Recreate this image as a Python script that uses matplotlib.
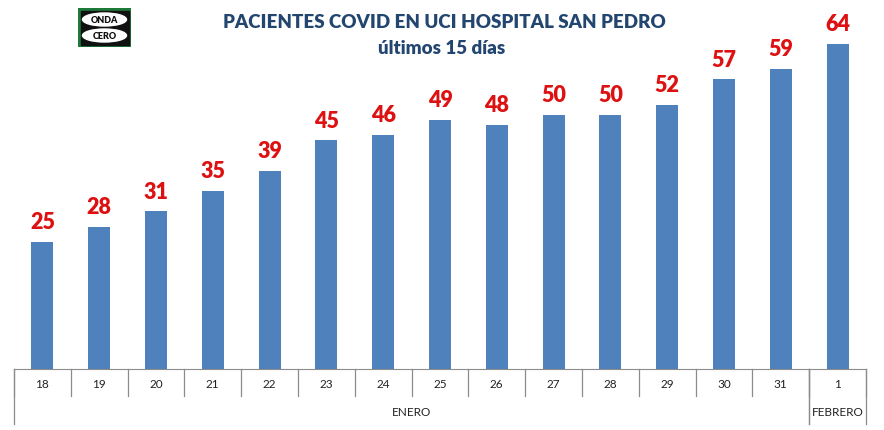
import matplotlib.pyplot as plt
from matplotlib.patches import Rectangle, Ellipse
from matplotlib.transforms import blended_transform_factory

# datos
dias = ["18", "19", "20", "21", "22", "23", "24", "25", "26", "27", "28", "29", "30", "31", "1"]
pacientes = [25, 28, 31, 35, 39, 45, 46, 49, 48, 50, 50, 52, 57, 59, 64]
meses = ["ENERO", "FEBRERO"]
dias_por_mes = [14, 1]

W, H = 884, 431
fig = plt.figure(figsize=(W / 100, H / 100), dpi=100)
plt.rcParams['font.family'] = ['Lato', 'DejaVu Sans']


def px(x0, y0, x1, y1):
    # caja en pixeles (arriba-izquierda) -> fraccion de figura
    return [x0 / W, 1 - y1 / H, (x1 - x0) / W, (y1 - y0) / H]


ax = fig.add_axes(px(14, 4, 866, 370))
x = list(range(len(dias)))
bars = ax.bar(x, pacientes, width=0.39, color="#4F81BD")
ax.set_xlim(-0.5, len(dias) - 0.5)
ax.set_ylim(0, 72)

for b, v in zip(bars, pacientes):
    ax.annotate(str(v), (b.get_x() + b.get_width() / 2, v), xytext=(0, 7),
                textcoords="offset points", ha="center", va="bottom",
                color="#DD1111", fontsize=15.5, fontweight="heavy")

for s in ["top", "right", "left"]:
    ax.spines[s].set_visible(False)
ax.spines["bottom"].set_color("#8c8c8c")
ax.set_yticks([])
ax.set_xticks([])

# eje de categorias con separadores
axh = 366
tr = blended_transform_factory(ax.transData, ax.transAxes)
for i in range(len(dias) + 1):
    ax.plot([i - 0.5, i - 0.5], [0, -27 / axh], color="#8c8c8c", lw=0.9,
            transform=tr, clip_on=False)
for i, d in enumerate(dias):
    ax.text(i, -15 / axh, d, transform=tr, ha="center", va="center",
            fontsize=8.5, color="#222222")

start = 0
for m, n in zip(meses, dias_por_mes):
    for edge in (start - 0.5, start + n - 0.5):
        ax.plot([edge, edge], [0, -55 / axh], color="#8c8c8c", lw=0.9,
                transform=tr, clip_on=False)
    ax.text(start + (n - 1) / 2, -43 / axh, m, transform=tr, ha="center",
            va="center", fontsize=8.5, color="#222222")
    start += n

# titulo
fig.text(444 / W, 1 - 22 / H, "PACIENTES COVID EN UCI HOSPITAL SAN PEDRO",
         ha="center", va="center", fontsize=13.5, fontweight="heavy", color="#22466F")
fig.text(442 / W, 1 - 49 / H, "últimos 15 días",
         ha="center", va="center", fontsize=13.5, fontweight="heavy", color="#22466F")

# logo
lg = fig.add_axes(px(78, 9, 131, 48))
lg.set_xlim(0, 53)
lg.set_ylim(0, 39)
lg.axis("off")
lg.add_patch(Rectangle((0, 0), 53, 39, color="#1E7A3A"))
lg.add_patch(Rectangle((2.5, 2.5), 48, 34, color="#111111"))
lg.add_patch(Ellipse((26.5, 27.5), 44, 13, color="white"))
lg.add_patch(Ellipse((26.5, 11.5), 44, 13, color="white"))
lg.text(26.5, 27.5, "ONDA", ha="center", va="center", fontsize=6.5, fontweight="heavy", color="#111111")
lg.text(26.5, 11.5, "CERO", ha="center", va="center", fontsize=6.5, fontweight="heavy", color="#111111")

fig.savefig("out.png", dpi=100)
